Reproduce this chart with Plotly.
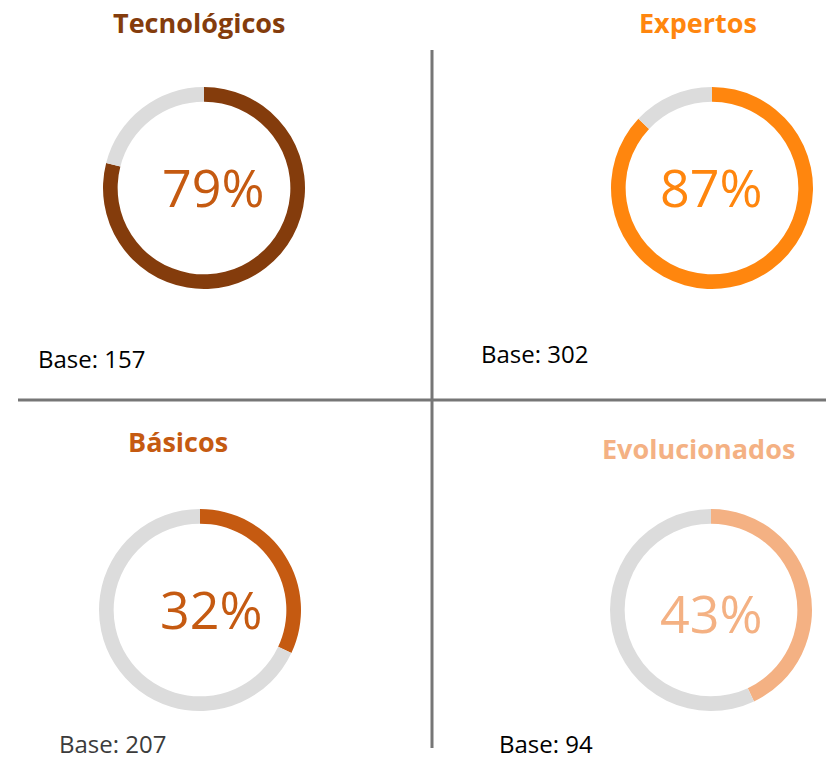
import plotly.graph_objects as go

W, H = 827, 761

segments = ["Tecnológicos", "Expertos", "Básicos", "Evolucionados"]
percent = [79, 87, 32, 43]
bases = [157, 302, 207, 94]
ring_colors = ["#843C0C", "#FF860E", "#C55A11", "#F4B183"]
pct_colors = ["#C55A11", "#FF860E", "#C55A11", "#F4B183"]
title_colors = ["#843C0C", "#FF860E", "#C55A11", "#F4B183"]
base_colors = ["#000000", "#000000", "#3B3B3B", "#000000"]
rest_color = "#DCDCDC"

# layout (pixel positions)
centers = [(204, 188), (712, 188), (200, 610), (711, 610)]
radius = 101
title_pos = [(199, 22), (698, 22), (178, 441), (698, 448)]
pct_pos = [(213, 187), (711, 187), (211, 608), (711, 612)]
base_pos = [(37, 359), (480, 354), (58, 743), (498, 743)]

FONT = "Open Sans"

def px(x):
    return x / W

def py(y):
    return 1 - y / H

fig = go.Figure()
annotations = []
for i, name in enumerate(segments):
    cx, cy = centers[i]
    fig.add_trace(go.Pie(
        values=[percent[i], 100 - percent[i]],
        labels=[name, "Resto"],
        hole=0.855,
        sort=False,
        direction="clockwise",
        rotation=0,
        textinfo="none",
        hoverinfo="label+value",
        marker=dict(colors=[ring_colors[i], rest_color], line=dict(width=0)),
        domain=dict(x=[px(cx - radius), px(cx + radius)],
                    y=[py(cy + radius), py(cy - radius)]),
        showlegend=False,
    ))
    tx, ty = title_pos[i]
    annotations.append(dict(x=px(tx), y=py(ty), xref="paper", yref="paper",
                            text=f"<b>{name}</b>", showarrow=False,
                            xanchor="center", yanchor="middle",
                            font=dict(family=FONT, size=27, color=title_colors[i])))
    qx, qy = pct_pos[i]
    annotations.append(dict(x=px(qx), y=py(qy), xref="paper", yref="paper",
                            text=f"{percent[i]}%", showarrow=False,
                            xanchor="center", yanchor="middle",
                            font=dict(family=FONT, size=52, color=pct_colors[i])))
    bx, by = base_pos[i]
    annotations.append(dict(x=px(bx), y=py(by), xref="paper", yref="paper",
                            text=f"Base: {bases[i]}", showarrow=False,
                            xanchor="left", yanchor="middle", borderpad=0,
                            font=dict(family=FONT, size=24, color=base_colors[i])))

shapes = [
    dict(type="line", xref="paper", yref="paper", x0=px(18), x1=px(826),
         y0=py(400), y1=py(400), line=dict(color="#767676", width=3)),
    dict(type="line", xref="paper", yref="paper", x0=px(432), x1=px(432),
         y0=py(50), y1=py(748), line=dict(color="#767676", width=3)),
]

fig.update_layout(
    width=W, height=H,
    margin=dict(l=0, r=0, t=0, b=0),
    paper_bgcolor="white", plot_bgcolor="white",
    annotations=annotations, shapes=shapes,
)

fig.write_html("out.html", config={"displayModeBar": False},
               post_script="document.body.style.margin='0px';document.body.style.overflow='hidden';")
